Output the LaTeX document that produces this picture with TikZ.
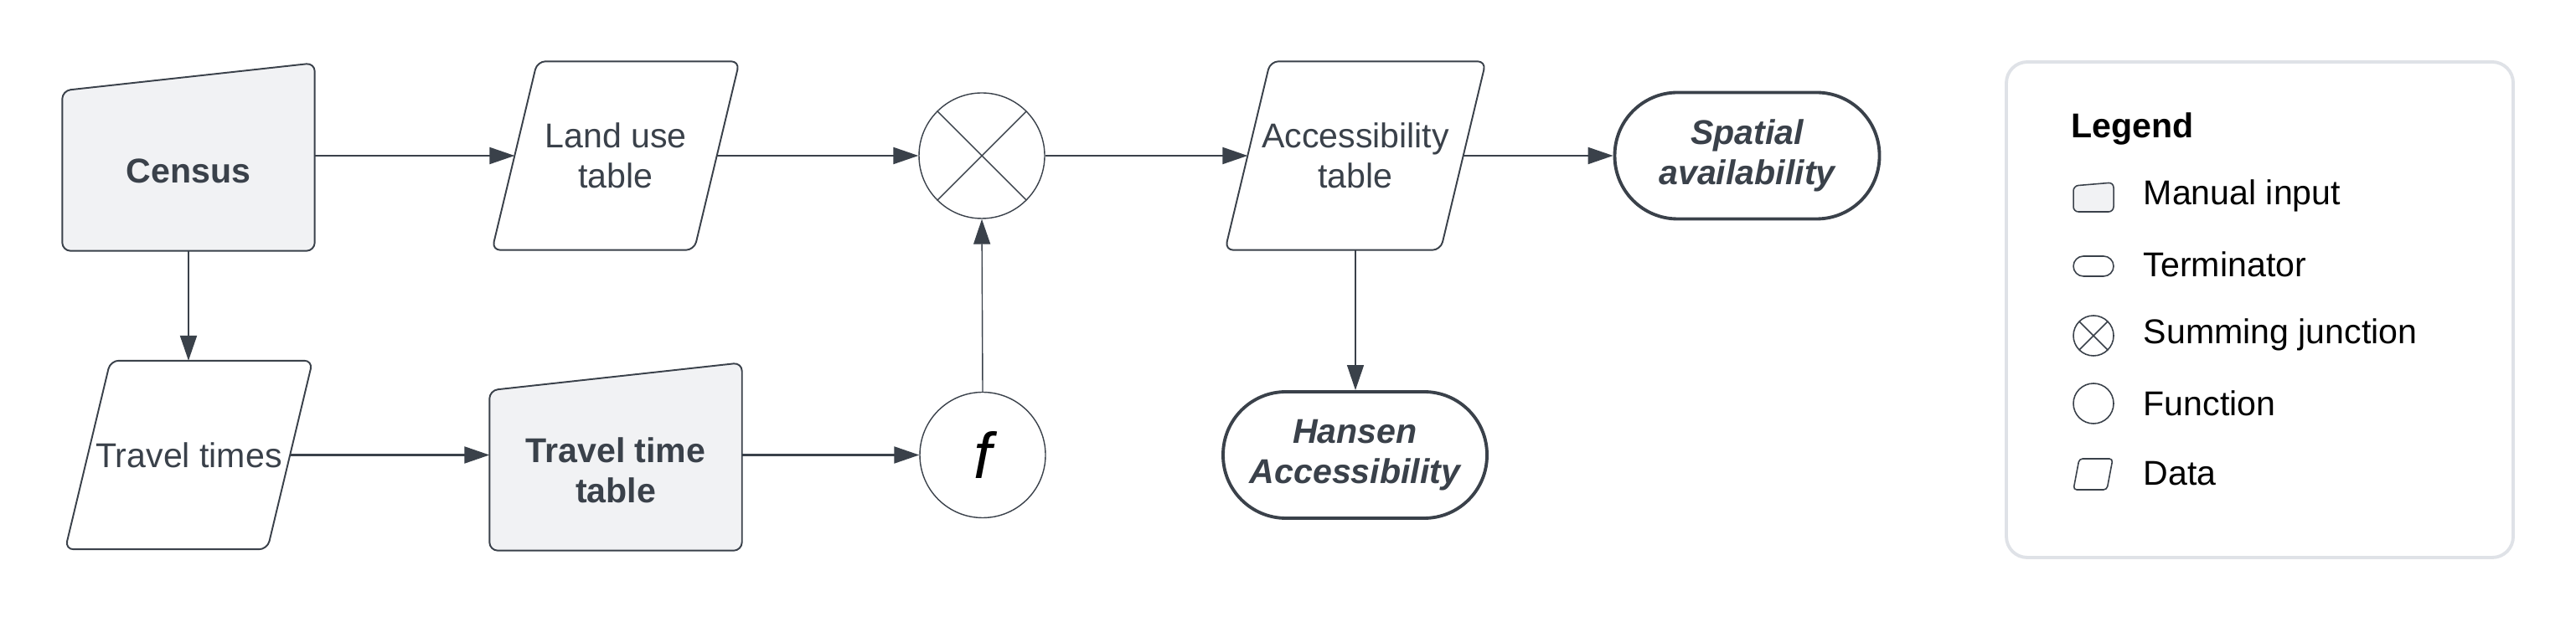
\documentclass[tikz,border=0pt]{standalone}
\usepackage{fontspec}
\setmainfont{Liberation Sans}
\definecolor{linegray}{HTML}{3A414A}
\definecolor{fillgray}{HTML}{F1F2F4}
\definecolor{framegray}{HTML}{DFE2E7}
\usetikzlibrary{arrows.meta, positioning, backgrounds}
\tikzset{
  manual/.style={rectangle, inner sep=0pt,
    minimum width=3cm, minimum height=1.9cm,
    align=center, text=linegray,
    font=\fontsize{11.7}{13.7}\selectfont\bfseries},
  data/.style={rectangle, inner sep=0pt,
    minimum width=2.4cm, minimum height=2.24cm,
    align=center, text=linegray,
    font=\fontsize{11.7}{13.7}\selectfont},
  terminal/.style={rectangle, rounded corners=7.5mm,
    draw=linegray, line width=1.1pt,
    minimum width=3.16cm, minimum height=1.51cm,
    align=center, text=linegray,
    font=\fontsize{11.7}{13.7}\selectfont\bfseries\itshape},
  junction/.style={circle, draw=linegray, line width=0.4pt,
    minimum size=1.5cm, inner sep=0pt,
    path picture={\draw[linegray, line width=0.4pt]
      (path picture bounding box.north west) -- (path picture bounding box.south east)
      (path picture bounding box.south west) -- (path picture bounding box.north east);}},
  funcnode/.style={circle, draw=linegray, line width=0.4pt,
    minimum size=1.5cm, inner sep=0pt,
    font=\fontsize{22}{24}\selectfont\itshape},
  shapeline/.style={draw=linegray, line width=0.55pt, rounded corners=1mm},
  arrow/.style={-{Triangle[length=3mm, width=2mm]}, draw=linegray, line width=0.6pt},
  thinarrow/.style={arrow, line width=0.4pt},
  legendtext/.style={anchor=west, inner sep=0pt,
    font=\fontsize{11.7}{13.7}\selectfont},
}

\begin{document}
\begin{tikzpicture}
\useasboundingbox (0,0) rectangle (30.75,-7.43);

% top row
\node[manual] (census) at (2.25,-2.04) {Census};
\node[data] (land) at (7.35,-1.86) {Land use\\table};
\node[junction] (sum) at (11.72,-1.86) {};
\node[data, minimum width=2.56cm] (acc) at (16.18,-1.86) {Accessibility\\table};
\node[terminal] (spatial) at (20.855,-1.86) {Spatial\\availability};

% bottom row
\node[data] (times) at (2.255,-5.435) {Travel times};
\node[manual] (ttable) at (7.35,-5.62) {Travel time\\table};
\node[funcnode] (func) at (11.73,-5.435) {f};
\node[terminal, minimum width=3.15cm] (hansen) at (16.175,-5.435) {Hansen\\Accessibility};

% outlines of the data and manual input shapes
\begin{scope}[on background layer]
  \fill[white] (0,0) rectangle (30.75,-7.43);
  \foreach \n in {land, times, acc} {
    \draw[shapeline] ([xshift=2.7mm]\n.north west) -- ([xshift=2.7mm]\n.north east)
      -- ([xshift=-2.7mm]\n.south east) -- ([xshift=-2.7mm]\n.south west) -- cycle;
  }
  \foreach \n in {census, ttable} {
    \draw[shapeline, fill=fillgray] (\n.north west) -- ([yshift=3.3mm]\n.north east)
      -- (\n.south east) -- (\n.south west) -- cycle;
  }
\end{scope}

% connectors
\draw[arrow] (census.east |- land.west) -- (land.west);
\draw[arrow] (census.south) -- (census.south |- times.north);
\draw[arrow] (land.east) -- (sum.west);
\draw[arrow] (sum.east) -- (acc.west);
\draw[arrow] (acc.east) -- (spatial.west);
\draw[thinarrow] (acc.south) -- (acc.south |- hansen.north);
\draw[arrow] (times.east) -- (times.east -| ttable.west);
\draw[arrow] (func.west -| ttable.east) -- (func.west);
\draw[thinarrow] (func.north) -- (sum.south);

% legend
\draw[framegray, line width=1.1pt, rounded corners=2.5mm] (23.95,-0.74) rectangle (30.00,-6.66);
\node[legendtext, font=\fontsize{11.7}{13.7}\selectfont\bfseries] (legtitle) at (24.72,-1.54) {Legend};
\foreach \name/\y/\txt in {manual/2.34/Manual input, term/3.16/Terminator,
    sumj/4.00/Summing junction, func/4.82/Function, data/5.66/Data} {
  \node[legendtext] (leg-\name) at (25.58,-\y) {\txt};
}
\begin{scope}[linegray, line width=0.45pt]
  \draw[fill=fillgray, rounded corners=0.6mm] (24.75,-2.22) -- (25.23,-2.18) -- (25.23,-2.53) -- (24.75,-2.53) -- cycle;
  \draw[rounded corners=1.2mm] (24.75,-3.06) rectangle (25.23,-3.30);
  \draw (24.99,-4.01) circle (0.24);
  \draw (24.99,-4.01) ++(45:0.24) -- ++(225:0.48);
  \draw (24.99,-4.01) ++(135:0.24) -- ++(315:0.48);
  \draw (24.99,-4.82) circle (0.24);
  \draw[rounded corners=0.4mm] (24.82,-5.48) -- (25.22,-5.48) -- (25.15,-5.85) -- (24.75,-5.85) -- cycle;
\end{scope}
\end{tikzpicture}
\end{document}
